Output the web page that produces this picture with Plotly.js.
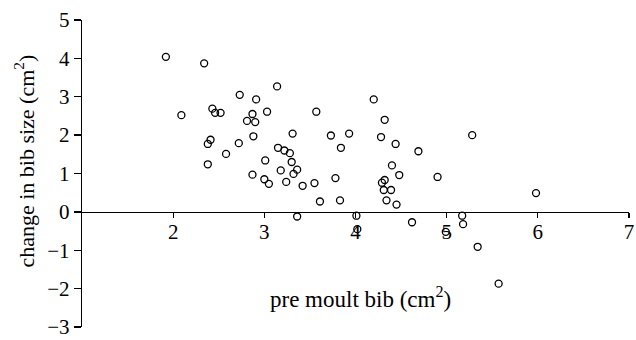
<!DOCTYPE html>
<html>
<head>
<meta charset="utf-8">
<script src="https://cdn.plot.ly/plotly-3.0.1.min.js"></script>
<style>html,body{margin:0;padding:0;background:#fff;}#chart{width:636px;height:340px;}</style>
</head>
<body>
<div id="chart"></div>
<script>
// pre moult bib area (cm^2)
const preMoultBib = [
  1.92, 2.34, 2.09, 2.73, 2.91, 3.14, 2.43, 2.46, 2.52, 2.87, 3.03, 2.81, 2.90, 3.57,
  2.41, 2.38, 2.72, 2.88, 3.31, 2.58, 2.38, 3.01, 3.15, 3.22, 3.28, 3.30, 3.18, 3.36,
  4.20, 4.32, 3.73, 3.93, 4.28, 3.84, 4.44, 4.69, 5.28, 4.40, 2.87, 3.00, 3.05, 3.24,
  3.32, 3.42, 3.55, 3.61, 3.36, 3.78, 3.83, 4.01, 4.02, 4.32, 4.29, 4.31, 4.39, 4.48,
  4.34, 4.45, 4.90, 4.62, 5.17, 5.18, 4.99, 5.34, 5.57, 5.98
];
// change in bib size (cm^2)
const bibChange = [
  4.04, 3.87, 2.52, 3.05, 2.93, 3.27, 2.69, 2.58, 2.58, 2.55, 2.61, 2.37, 2.34, 2.61,
  1.88, 1.77, 1.79, 1.97, 2.04, 1.51, 1.24, 1.34, 1.67, 1.60, 1.53, 1.30, 1.08, 1.10,
  2.93, 2.40, 1.99, 2.04, 1.95, 1.67, 1.77, 1.58, 2.00, 1.21, 0.97, 0.85, 0.73, 0.78,
  0.99, 0.68, 0.75, 0.27, -0.12, 0.88, 0.30, -0.10, -0.45, 0.83, 0.76, 0.57, 0.57, 0.96,
  0.30, 0.19, 0.91, -0.27, -0.10, -0.32, -0.52, -0.91, -1.87, 0.49
];
const xTicks = [2, 3, 4, 5, 6, 7];
const yTicks = [-3, -2, -1, 0, 1, 2, 3, 4, 5];
const xTitle = 'pre moult bib (cm<sup>2</sup>)';
const yTitle = 'change in bib size (cm<sup>2</sup>)';

const serif = '"Liberation Serif", "DejaVu Serif", serif';

const trace = {
  x: preMoultBib,
  y: bibChange,
  type: 'scatter',
  mode: 'markers',
  marker: {symbol: 'circle-open', size: 7, color: '#000', line: {width: 1.3, color: '#000'}},
  cliponaxis: false,
  hoverinfo: 'x+y'
};

const tickFont = {family: serif, size: 21, color: '#000'};

const layout = {
  width: 636,
  height: 340,
  margin: {l: 82, r: 7, t: 20, b: 13, pad: 0},
  paper_bgcolor: '#fff',
  plot_bgcolor: 'rgba(0,0,0,0)',
  showlegend: false,
  font: {family: serif, color: '#000', size: 21},
  xaxis: {
    range: [1, 7],
    anchor: 'free',
    position: 0.375,
    showline: true,
    linecolor: '#000',
    linewidth: 1.3,
    showgrid: false,
    zeroline: false,
    ticks: 'outside',
    ticklen: 5,
    tickwidth: 1.3,
    tickcolor: '#000',
    tickmode: 'array',
    tickvals: xTicks,
    ticktext: xTicks.map(String),
    ticklabelstandoff: -4,
    tickfont: tickFont,
    automargin: false,
    fixedrange: true
  },
  yaxis: {
    range: [-3, 5],
    showline: true,
    linecolor: '#000',
    linewidth: 1.3,
    showgrid: false,
    zeroline: false,
    ticks: 'outside',
    ticklen: 7,
    tickwidth: 1.3,
    tickcolor: '#000',
    tickmode: 'array',
    tickvals: yTicks,
    ticktext: yTicks.map(v => (v < 0 ? '\u2212' + Math.abs(v) : String(v))),
    tickfont: tickFont,
    automargin: false,
    fixedrange: true
  },
  annotations: [
    {
      text: xTitle, xref: 'x', yref: 'y', x: 4.05, y: -2.23,
      xanchor: 'center', yanchor: 'middle', showarrow: false,
      font: {family: serif, size: 23, color: '#000'}
    },
    {
      text: yTitle, xref: 'paper', yref: 'y', x: -0.106, y: 1.31,
      xanchor: 'center', yanchor: 'middle', showarrow: false, textangle: -90,
      font: {family: serif, size: 22, color: '#000'}
    }
  ]
};

Plotly.newPlot('chart', [trace], layout, {displayModeBar: false, staticPlot: true});
</script>
</body>
</html>
